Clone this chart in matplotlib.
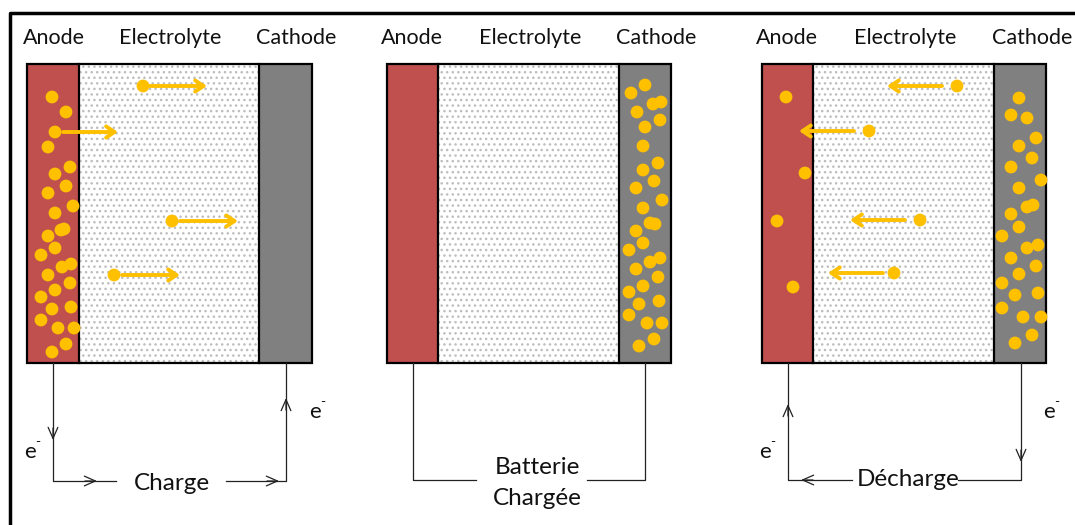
import matplotlib.pyplot as plt
from matplotlib.patches import Rectangle

plt.rcParams['font.family'] = ['Lato', 'DejaVu Sans']

GOLD = '#FFC000'
RED = '#C0504D'
GREY = '#808080'
INK = '#111111'

# cell outlines, pixel units: (left, anode|electrolyte, electrolyte|cathode, right)
cells = [(27, 79, 259, 312), (387, 438, 619, 671), (762, 813, 994, 1046)]
cell_top, cell_bottom = 64, 363
layer_names = ['Anode', 'Electrolyte', 'Cathode']
label_x = [(54, 170, 296), (412, 530, 656), (787, 905, 1032)]

# lithium ions (x, y) per panel
ions_charge = [(52, 97), (66, 112), (55, 132), (48, 147), (70, 167), (55, 174), (66, 186),
               (48, 193), (73, 206), (55, 213), (64, 229), (61, 230), (48, 236), (55, 248),
               (41, 255), (62, 267), (71, 264), (48, 275), (70, 283), (55, 290), (41, 297),
               (52, 309), (71, 307), (41, 320), (58, 328), (74, 328), (66, 344), (52, 352),
               (143, 86), (172, 221), (114, 275)]
ions_charged = [(645, 85), (631, 93), (653, 104), (661, 102), (637, 112), (660, 120), (645, 127),
                (643, 146), (658, 163), (643, 170), (654, 181), (636, 188), (662, 200), (643, 208),
                (650, 223), (655, 224), (636, 231), (643, 243), (629, 250), (650, 262), (660, 258),
                (636, 269), (658, 277), (643, 286), (629, 292), (639, 304), (659, 301), (629, 315),
                (647, 323), (662, 323), (654, 339), (639, 346)]
ions_discharge = [(786, 97), (805, 173), (777, 221), (793, 287),
                  (957, 86), (869, 131), (920, 220), (894, 273),
                  (1019, 98), (1011, 115), (1027, 118), (1036, 138), (1019, 146), (1032, 158),
                  (1011, 167), (1041, 180), (1019, 188), (1027, 207), (1033, 205), (1011, 214),
                  (1019, 227), (1002, 236), (1027, 248), (1038, 245), (1011, 258), (1036, 266),
                  (1019, 274), (1002, 283), (1015, 295), (1038, 293), (1002, 308), (1023, 317),
                  (1041, 317), (1032, 335), (1015, 343)]
ions = [ions_charge, ions_charged, ions_discharge]

# ion movement arrows: (x_start, x_end, y)
moves_charge = [(150, 207, 86), (63, 118, 132), (180, 238, 221), (122, 180, 275)]
moves_discharge = [(942, 887, 86), (854, 799, 131), (905, 850, 220), (883, 828, 273)]

# external circuit: left wire x, right wire x, bottom y, gap in bottom wire
wires = [(53, 286, 481, 116, 226), (413, 645, 480, 476, 587), (788, 1021, 480, 852, 958)]
circuit_text = ['Charge', 'Batterie\nChargée', 'Décharge']
circuit_text_pos = [(172, 484), (537, 483), (908, 479)]

fig = plt.figure(figsize=(10.75, 5.25), dpi=100)
ax = fig.add_axes([0, 0, 1, 1])
ax.set_xlim(0, 1075)
ax.set_ylim(525, 0)
ax.axis('off')

# frame
ax.plot([9.5, 9.5, 1075], [525, 13, 13], color='black', lw=2.5, solid_capstyle='butt')

for i, (x0, x1, x2, x3) in enumerate(cells):
    h = cell_bottom - cell_top
    ax.add_patch(Rectangle((x0, cell_top), x1 - x0, h, facecolor=RED, edgecolor='none'))
    ax.add_patch(Rectangle((x1, cell_top), x2 - x1, h, facecolor='white', edgecolor='#bdbdbd',
                           lw=0, hatch='...'))
    ax.add_patch(Rectangle((x2, cell_top), x3 - x2, h, facecolor=GREY, edgecolor='none'))
    ax.add_patch(Rectangle((x0, cell_top), x3 - x0, h, facecolor='none', edgecolor='black', lw=1.6))
    ax.plot([x1, x1], [cell_top, cell_bottom], color='black', lw=1.6)
    ax.plot([x2, x2], [cell_top, cell_bottom], color='black', lw=1.6)
    for name, lx in zip(layer_names, label_x[i]):
        ax.text(lx, 38, name, ha='center', va='center', fontsize=15.5, color=INK)

    xs = [p[0] for p in ions[i]]
    ys = [p[1] for p in ions[i]]
    ax.scatter(xs, ys, s=85, color=GOLD, edgecolors='none', zorder=5)

    wl, wr, wy, g0, g1 = wires[i]
    ax.plot([wl, wl, g0], [cell_bottom, wy, wy], color='#222222', lw=0.9)
    ax.plot([g1, wr, wr], [wy, wy, cell_bottom], color='#222222', lw=0.9)
    tx, ty = circuit_text_pos[i]
    ax.text(tx, ty, circuit_text[i], ha='center', va='center', fontsize=17.5, color=INK,
            linespacing=1.6)

for moves in (moves_charge, moves_discharge):
    for xs_, xe, y in moves:
        ax.annotate('', xy=(xe, y), xytext=(xs_, y),
                    arrowprops=dict(arrowstyle='->,head_length=0.6,head_width=0.4',
                                    color=GOLD, lw=2.8, shrinkA=0, shrinkB=0), zorder=6)

# electron flow chevrons on the wires: (tip x, tip y, dx, dy)
chevrons = [(53, 440, 0, 1), (97, 481, 1, 0), (279, 481, 1, 0), (286, 398, 0, -1),
            (788, 404, 0, -1), (801, 480, -1, 0), (1021, 462, 0, 1)]
for cx, cy, dx, dy in chevrons:
    ax.annotate('', xy=(cx, cy), xytext=(cx - 12 * dx, cy - 12 * dy),
                arrowprops=dict(arrowstyle='->,head_length=0.8,head_width=0.35',
                                color='#222222', lw=0.9, shrinkA=0, shrinkB=0))

# electron labels
electrons = [(30, 452), (315, 412), (765, 452), (1049, 412)]
for ex, ey in electrons:
    ax.text(ex, ey, 'e', ha='center', va='center', fontsize=16, color=INK)
    ax.text(ex + 8, ey - 10, '-', ha='center', va='center', fontsize=10, color=INK)

fig.savefig('out.png', dpi=100)
